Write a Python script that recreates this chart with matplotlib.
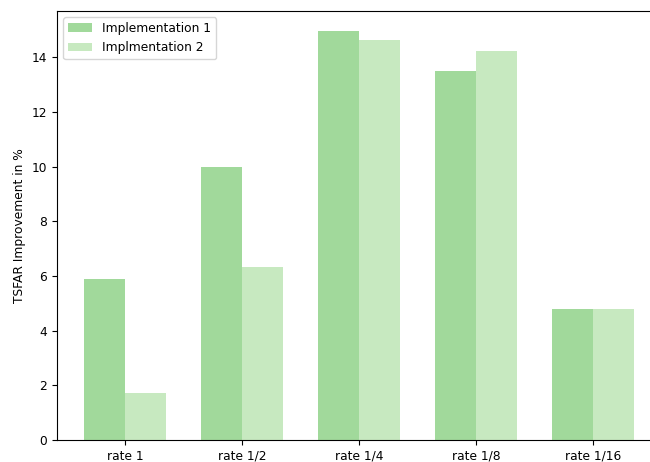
import numpy as np
import matplotlib
matplotlib.use('Agg')
import matplotlib.pyplot as plt

# data
rates = ['rate 1', 'rate 1/2', 'rate 1/4', 'rate 1/8', 'rate 1/16']
impl1 = [5.9, 10.0, 14.95, 13.5, 4.8]
impl2 = [1.73, 6.32, 14.63, 14.25, 4.8]

plt.rcParams['font.size'] = 8.8

fig = plt.figure(figsize=(6.5, 4.62), dpi=100)
ax = fig.add_axes([57/650, 22/462, 604/650, 429/462])

x = np.arange(len(rates))
w = 0.35
ax.bar(x - w/2, impl1, w, color='#a1d99b', label='Implementation 1')
ax.bar(x + w/2, impl2, w, color='#c7e9c0', label='Implmentation 2')

ax.set_xticks(x)
ax.set_xticklabels(rates)
ax.set_ylabel('TSFAR Improvement in %')
ax.legend(loc='upper left')

fig.savefig('out.png', dpi=100)
